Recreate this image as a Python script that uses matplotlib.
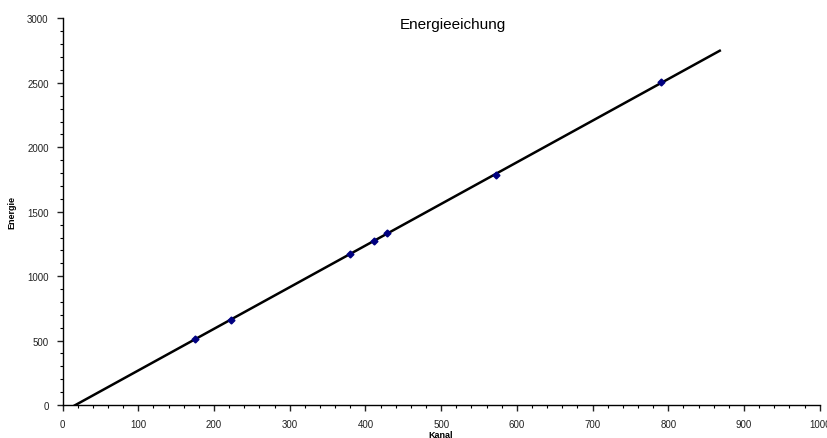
import numpy as np
import matplotlib.pyplot as plt
from matplotlib.ticker import MultipleLocator

plt.rcParams["font.family"] = ["Liberation Sans", "DejaVu Sans"]

# Messpunkte (Kanal, Energie)
kanal = [175, 222, 380, 411, 429, 572, 791]
energie = [511, 662, 1173, 1275, 1332, 1785, 2505]

# Bereich der Ausgleichsgeraden
fit_x_start = 16
fit_x_end = 868

# Lineare Ausgleichsgerade
m, b = np.polyfit(kanal, energie, 1)
x_fit = np.array([fit_x_start, fit_x_end])
y_fit = m * x_fit + b

fig = plt.figure(figsize=(8.28, 4.39), dpi=100)
ax = fig.add_axes([0.0755, 0.0752, 0.9145, 0.8804])

ax.plot(x_fit, y_fit, color="black", linewidth=1.8, zorder=2)
ax.plot(kanal, energie, linestyle="none", marker="D", markersize=3.5,
        color="#000080", zorder=3)

ax.set_xlim(0, 1000)
ax.set_ylim(0, 3000)
ax.xaxis.set_major_locator(MultipleLocator(100))
ax.xaxis.set_minor_locator(MultipleLocator(20))
ax.yaxis.set_major_locator(MultipleLocator(500))
ax.yaxis.set_minor_locator(MultipleLocator(100))

for side in ("top", "right"):
    ax.spines[side].set_visible(False)
for side in ("left", "bottom"):
    ax.spines[side].set_linewidth(1.0)

ax.tick_params(which="major", direction="out", length=4, width=1,
               labelsize=7, pad=6, colors="#222222")
ax.tick_params(which="minor", direction="out", length=2, width=0.8)

ax.text(0.515, 0.986, "Energieeichung", transform=ax.transAxes,
        fontsize=11, ha="center", va="center")
ax.set_xlabel("Kanal", fontsize=6.5, fontweight="bold", labelpad=1)
ax.set_ylabel("Energie", fontsize=6.5, fontweight="bold", labelpad=8)

fig.savefig("out.png", dpi=100)
